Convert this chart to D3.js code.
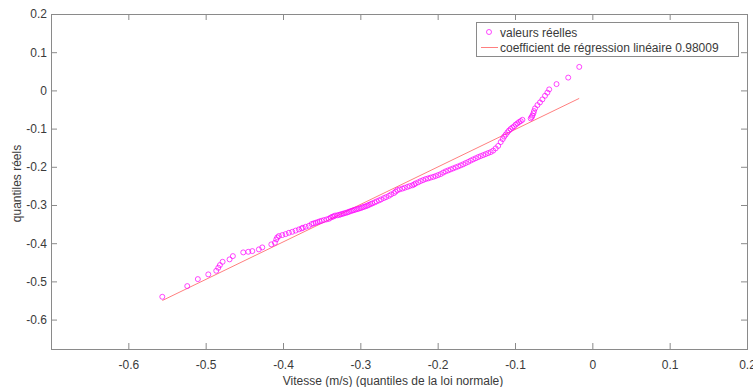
<!DOCTYPE html>
<html>
<head>
<meta charset="utf-8">
<script src="https://cdn.jsdelivr.net/npm/d3@7"></script>
<style>
  html, body { margin: 0; padding: 0; background: #fff; }
  svg { display: block; font-family: "Liberation Sans", Arial, sans-serif; }
</style>
</head>
<body>
<svg id="chart" width="753" height="387"></svg>
<script>
// ---- data ----
const qqX = [
  -0.5561,-0.5238,-0.5101,-0.4966,-0.4863,-0.4837,-0.4816,-0.4781,-0.4691,-0.4648,
  -0.4514,-0.4449,-0.4397,-0.4312,-0.4268,-0.4151,-0.4105,-0.4087,-0.4074,-0.4053,
  -0.4009,-0.3966,-0.3924,-0.3880,-0.3837,-0.3794,-0.3759,-0.3743,-0.3708,-0.3665,
  -0.3630,-0.3604,-0.3578,-0.3552,-0.3527,-0.3501,-0.3471,-0.3436,-0.3406,-0.3384,
  -0.3362,-0.3345,-0.3326,-0.3298,-0.3274,-0.3255,-0.3233,-0.3212,-0.3190,-0.3168,
  -0.3147,-0.3125,-0.3103,-0.3083,-0.3061,-0.3039,-0.3018,-0.2996,-0.2974,-0.2953,
  -0.2931,-0.2909,-0.2889,-0.2867,-0.2845,-0.2815,-0.2789,-0.2759,-0.2731,-0.2695,
  -0.2666,-0.2630,-0.2602,-0.2565,-0.2543,-0.2521,-0.2492,-0.2457,-0.2427,-0.2392,
  -0.2362,-0.2327,-0.2304,-0.2285,-0.2252,-0.2220,-0.2188,-0.2155,-0.2123,-0.2091,
  -0.2058,-0.2026,-0.1994,-0.1961,-0.1929,-0.1897,-0.1864,-0.1832,-0.1800,-0.1767,
  -0.1735,-0.1702,-0.1670,-0.1638,-0.1605,-0.1573,-0.1541,-0.1508,-0.1476,-0.1444,
  -0.1411,-0.1379,-0.1347,-0.1314,-0.1282,-0.1250,-0.1217,-0.1185,-0.1159,-0.1140,
  -0.1120,-0.1098,-0.1078,-0.1056,-0.1034,-0.1013,-0.0991,-0.0969,-0.0948,-0.0926,
  -0.0904,-0.0797,-0.0784,-0.0775,-0.0762,-0.0754,-0.0741,-0.0710,-0.0677,-0.0646,
  -0.0612,-0.0581,-0.0558,-0.0463,-0.0312,-0.0169
];
const qqY = [
  -0.5403,-0.5123,-0.4940,-0.4817,-0.4723,-0.4644,-0.4573,-0.4487,-0.4424,-0.4338,
  -0.4241,-0.4225,-0.4207,-0.4162,-0.4110,-0.4031,-0.3990,-0.3901,-0.3848,-0.3814,
  -0.3788,-0.3762,-0.3728,-0.3702,-0.3670,-0.3639,-0.3613,-0.3597,-0.3571,-0.3545,
  -0.3500,-0.3482,-0.3466,-0.3448,-0.3429,-0.3414,-0.3395,-0.3377,-0.3361,-0.3330,
  -0.3309,-0.3298,-0.3277,-0.3270,-0.3259,-0.3246,-0.3233,-0.3220,-0.3207,-0.3194,
  -0.3178,-0.3160,-0.3147,-0.3134,-0.3120,-0.3107,-0.3094,-0.3081,-0.3063,-0.3047,
  -0.3034,-0.3016,-0.2997,-0.2976,-0.2958,-0.2932,-0.2906,-0.2880,-0.2853,-0.2819,
  -0.2793,-0.2759,-0.2723,-0.2688,-0.2649,-0.2610,-0.2592,-0.2571,-0.2550,-0.2526,
  -0.2505,-0.2484,-0.2461,-0.2435,-0.2406,-0.2374,-0.2348,-0.2322,-0.2304,-0.2283,
  -0.2264,-0.2243,-0.2217,-0.2191,-0.2152,-0.2120,-0.2094,-0.2068,-0.2042,-0.2016,
  -0.1990,-0.1963,-0.1935,-0.1903,-0.1872,-0.1838,-0.1806,-0.1777,-0.1746,-0.1720,
  -0.1694,-0.1668,-0.1641,-0.1615,-0.1576,-0.1518,-0.1453,-0.1353,-0.1275,-0.1209,
  -0.1157,-0.1099,-0.1052,-0.1008,-0.0974,-0.0942,-0.0895,-0.0864,-0.0830,-0.0804,
  -0.0770,-0.0733,-0.0699,-0.0660,-0.0602,-0.0542,-0.0471,-0.0385,-0.0314,-0.0236,
  -0.0141,-0.0058, 0.0026, 0.0165, 0.0335, 0.0615
];
const fitX = [-0.556, -0.017];
const fitY = [-0.550, -0.021];
const xTicks = [-0.6, -0.5, -0.4, -0.3, -0.2, -0.1, 0, 0.1, 0.2];
const yTicks = [-0.6, -0.5, -0.4, -0.3, -0.2, -0.1, 0, 0.1, 0.2];
const xTickLabels = ["-0.6","-0.5","-0.4","-0.3","-0.2","-0.1","0","0.1","0.2"];
const yTickLabels = ["-0.6","-0.5","-0.4","-0.3","-0.2","-0.1","0","0.1","0.2"];
const xDomain = [-0.7, 0.2];
const yDomain = [-0.677, 0.2];
const legendLabels = ["valeurs réelles", "coefficient de régression linéaire 0.98009"];
const xTitle = "Vitesse (m/s) (quantiles de la loi normale)";
const yTitle = "quantiles réels";

// ---- layout ----
const L = 51, R = 747, T = 14, B = 349;
const axisColor = "#8a8a8a";
const textColor = "#3a3a3a";
const markerColor = "#ff00ff";
const lineColor = "#ff7f7f";

const svg = d3.select("#chart");
const x = d3.scaleLinear().domain(xDomain).range([L, R]);
const y = d3.scaleLinear().domain(yDomain).range([B, T]);

function styleAxis(g, showText) {
  g.select(".domain").remove();
  g.selectAll(".tick line").attr("stroke", axisColor).attr("stroke-width", 1);
  g.selectAll(".tick text").attr("fill", textColor).style("font-size", "12px")
    .style("font-family", "'Liberation Sans', Arial, sans-serif");
  if (!showText) g.selectAll(".tick text").remove();
}

// axes (ticks inside, mirrored on all sides)
svg.append("g").attr("transform", `translate(0,${B})`)
  .call(d3.axisBottom(x).tickValues(xTicks).tickFormat((d, i) => xTickLabels[i]).tickSize(-6).tickPadding(11))
  .call(g => styleAxis(g, true));
svg.append("g").attr("transform", `translate(0,${T})`)
  .call(d3.axisTop(x).tickValues(xTicks).tickSize(-6))
  .call(g => styleAxis(g, false));
svg.append("g").attr("transform", `translate(${L},0)`)
  .call(d3.axisLeft(y).tickValues(yTicks).tickFormat((d, i) => yTickLabels[i]).tickSize(-6).tickPadding(4))
  .call(g => styleAxis(g, true));
svg.append("g").attr("transform", `translate(${R},0)`)
  .call(d3.axisRight(y).tickValues(yTicks).tickSize(-6))
  .call(g => styleAxis(g, false));

// box
svg.append("rect").attr("x", L + 0.5).attr("y", T + 0.5)
  .attr("width", R - L).attr("height", B - T)
  .attr("fill", "none").attr("stroke", axisColor).attr("stroke-width", 1);

// fit line
const pts = qqX.map((d, i) => ({ x: d, y: qqY[i] }));
const fit = fitX.map((d, i) => ({ x: d, y: fitY[i] }));
svg.append("path").datum(fit)
  .attr("d", d3.line().x(d => x(d.x)).y(d => y(d.y)))
  .attr("fill", "none").attr("stroke", lineColor).attr("stroke-width", 1);

// points
svg.append("g").selectAll("circle").data(pts).join("circle")
  .attr("cx", d => x(d.x)).attr("cy", d => y(d.y)).attr("r", 2.5)
  .attr("fill", "none").attr("stroke", markerColor).attr("stroke-width", 0.9)
  .attr("stroke-opacity", 0.8);

// axis titles
svg.append("text").attr("x", (L + R) / 2 - 6).attr("y", 385)
  .attr("text-anchor", "middle").attr("fill", textColor).style("font-size", "12px")
  .text(xTitle);
svg.append("text").attr("transform", `translate(21,${(T + B) / 2 + 2}) rotate(-90)`)
  .attr("text-anchor", "middle").attr("fill", textColor).style("font-size", "12px")
  .text(yTitle);

// legend
const lg = svg.append("g");
lg.append("rect").attr("x", 476.5).attr("y", 22.5).attr("width", 262).attr("height", 34)
  .attr("fill", "#fff").attr("stroke", axisColor).attr("stroke-width", 1);
lg.append("circle").attr("cx", 489).attr("cy", 32).attr("r", 2.5)
  .attr("fill", "none").attr("stroke", markerColor).attr("stroke-width", 0.9).attr("stroke-opacity", 0.8);
lg.append("text").attr("x", 500).attr("y", 36.5).attr("fill", textColor)
  .style("font-size", "12px").text(legendLabels[0]);
lg.append("line").attr("x1", 481).attr("x2", 498).attr("y1", 47.5).attr("y2", 47.5)
  .attr("stroke", lineColor).attr("stroke-width", 1);
lg.append("text").attr("x", 500).attr("y", 51.5).attr("fill", textColor)
  .style("font-size", "12px").text(legendLabels[1]);
</script>
</body>
</html>
